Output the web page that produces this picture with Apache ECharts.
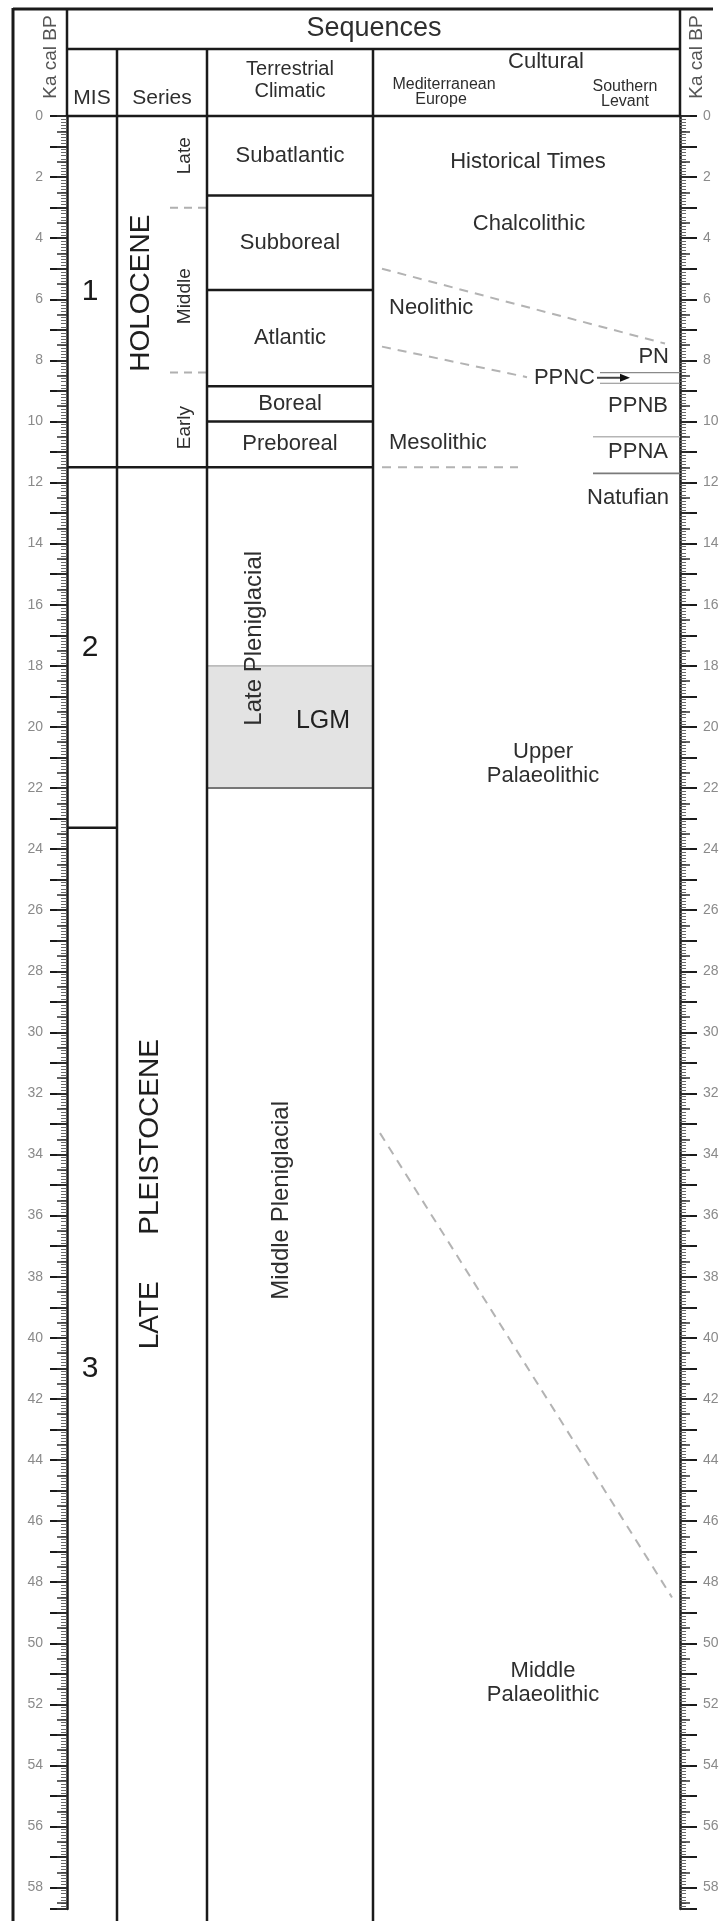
<!DOCTYPE html>
<html><head><meta charset="utf-8">
<script src="https://cdn.jsdelivr.net/npm/echarts@6/dist/echarts.min.js"></script>
<style>html,body{margin:0;padding:0;background:#fff}#c{width:725px;height:1921px}</style>
</head><body><div id="c"></div>
<script>
// ---------------- DATA (ka cal BP) ----------------
const ageRange = [0, 58.7];
const tickLabels = [0,2,4,6,8,10,12,14,16,18,20,22,24,26,28,30,32,34,36,38,40,42,44,46,48,50,52,54,56,58];

const misNames = ['1', '2', '3'];
const misTop   = [0, 11.5, 23.3];
const misBase  = [11.5, 23.3, 58.7];

const seriesNames = ['HOLOCENE', 'LATE      PLEISTOCENE'];
const seriesTop   = [0, 11.5];
const seriesBase  = [11.5, 58.7];
const seriesLabelAge = [5.8, 35.3];

const holoSubNames = ['Late', 'Middle', 'Early'];
const holoSubTop   = [0, 3.0, 8.4];
const holoSubBase  = [3.0, 8.4, 11.5];
const holoSubLabelAge = [1.3, 5.9, 10.2];

const climNames = ['Subatlantic', 'Subboreal', 'Atlantic', 'Boreal', 'Preboreal'];
const climTop   = [0, 2.6, 5.7, 8.85, 10.0];
const climBase  = [2.6, 5.7, 8.85, 10.0, 11.5];

const pleniNames = ['Late Pleniglacial', 'Middle Pleniglacial'];
const pleniTop   = [11.5, 22.0];
const pleniBase  = [22.0, 58.7];
const pleniLabelAge = [17.1, 35.5];

const lgmName = 'LGM';
const lgmRange = [18.0, 22.0];
const lgmLabelAge = 19.8;

const medNames = ['Historical Times', 'Chalcolithic', 'Neolithic', 'Mesolithic', 'Upper\nPalaeolithic', 'Middle\nPalaeolithic'];
const medLabelAge = [1.5, 3.55, 6.3, 10.7, 21.2, 51.3];
const medBoundFrom = [5.0, 7.55, 11.5, 33.3];
const medBoundTo   = [7.45, 8.55, 11.5, 48.5];

const levNames = ['PN', 'PPNC', 'PPNB', 'PPNA', 'Natufian'];
const levLabelAge = [7.9, 8.57, 9.5, 11.0, 12.5];
const levBounds = [8.4, 8.75, 10.5, 11.7];

// ---------------- LAYOUT (pixels) ----------------
const FONT = '"Liberation Sans", Arial, Helvetica, sans-serif';
const GL = 67, GR = 680, GT = 116, GB = 1909;      // plot frame
const W = GR - GL;                                    // x axis units = px from left axis
const col = { mis: [0, 50], ser: [50, 140], ter: [140, 306], cul: [306, W] };
const medLabelX = [461, 462, 322, 322, 476, 476];
const medLabelAlign = ['center', 'center', 'left', 'left', 'center', 'center'];
const medBoundX = [[315, 598], [315, 460], [315, 451], [313, 605]];
const levLabelX = [602, 528, 601, 601, 602];
const levBoundX = [[533, W], [533, W], [526, W], [526, W]];
const levBoundStyle = [['#8a8a8a', 1.2], ['#8a8a8a', 1.2], ['#b5b5b5', 1.6], ['#7a7a7a', 1.6]];

// ---------------- BUILD ITEMS ----------------
const items = [];
const line = (x1, a1, x2, a2, color, w, dash) => items.push({ k: 'line', x1, a1, x2, a2, color, w, dash });
const text = (x, a, t, size, o = {}) => items.push(Object.assign({ k: 'text', x, a, t, size }, o));

// LGM shading
items.push({ k: 'rect', x1: col.ter[0], a1: lgmRange[0], x2: col.ter[1], a2: lgmRange[1], fill: '#e3e3e3' });
// top (0 ka) line
line(0, ageRange[0], W, ageRange[0], '#1a1a1a', 2.5);
// MIS
misTop.forEach((t, i) => { if (i > 0) line(col.mis[0], t, col.mis[1], t, '#1a1a1a', 2.5); });
misNames.forEach((n, i) => text(23, (misTop[i] + misBase[i]) / 2, n, 30, { color: '#1a1a1a' }));
// Series
seriesTop.forEach((t, i) => { if (i > 0) line(col.ser[0], t, col.ser[1], t, '#1a1a1a', 2.5); });
seriesNames.forEach((n, i) => text(i === 0 ? 74 : 83, seriesLabelAge[i], n, 28, { rot: true, color: '#1f1f1f' }));
holoSubTop.forEach((t, i) => { if (i > 0) line(103, t, col.ser[1], t, '#b0b0b0', 2, [8, 6]); });
holoSubNames.forEach((n, i) => text(118, holoSubLabelAge[i], n, 19, { rot: true }));
// Terrestrial climatic
climBase.forEach((b, i) => line(col.ter[0], b, col.ter[1], b, '#1a1a1a', 2.5));
climNames.forEach((n, i) => text(223, (climTop[i] + climBase[i]) / 2, n, 22));
line(col.ter[0], lgmRange[0], col.ter[1], lgmRange[0], '#a8a8a8', 1.2);
line(col.ter[0], pleniBase[0], col.ter[1], pleniBase[0], '#777', 1.8);
pleniNames.forEach((n, i) => text(i === 0 ? 187 : 214, pleniLabelAge[i], n, 24, { rot: true }));
text(256, lgmLabelAge, lgmName, 25, { color: '#222' });
// Cultural – Mediterranean Europe
medBoundFrom.forEach((a, i) => line(medBoundX[i][0], a, medBoundX[i][1], medBoundTo[i], '#b3b3b3', 2, [9, 7]));
medNames.forEach((n, i) => text(medLabelX[i], medLabelAge[i], n, 22, { align: medLabelAlign[i], lh: 24 }));
// Cultural – Southern Levant
levBounds.forEach((b, i) => line(levBoundX[i][0], b, levBoundX[i][1], b, levBoundStyle[i][0], levBoundStyle[i][1]));
levNames.forEach((n, i) => text(levLabelX[i], levLabelAge[i], n, 22, { align: 'right' }));
items.push({ k: 'arrow', x1: 530, x2: 563, a: levLabelAge[1] });

function render(params, api) {
  const d = items[params.dataIndex];
  const P = (x, a) => api.coord([x, a]);
  if (d.k === 'line') {
    const p = P(d.x1, d.a1), q = P(d.x2, d.a2);
    return { type: 'line', silent: true, shape: { x1: p[0], y1: p[1], x2: q[0], y2: q[1] },
      style: { stroke: d.color, lineWidth: d.w, lineDash: d.dash || null } };
  }
  if (d.k === 'rect') {
    const p = P(d.x1, d.a1), q = P(d.x2, d.a2);
    return { type: 'rect', silent: true, shape: { x: p[0], y: p[1], width: q[0] - p[0], height: q[1] - p[1] }, style: { fill: d.fill } };
  }
  if (d.k === 'arrow') {
    const p = P(d.x1, d.a), q = P(d.x2, d.a);
    return { type: 'group', silent: true, children: [
      { type: 'line', shape: { x1: p[0], y1: p[1], x2: q[0] - 6, y2: q[1] }, style: { stroke: '#444', lineWidth: 2 } },
      { type: 'polygon', shape: { points: [[q[0], q[1]], [q[0] - 10, q[1] - 4], [q[0] - 10, q[1] + 4]] }, style: { fill: '#111' } }
    ] };
  }
  const p = P(d.x, d.a);
  return { type: 'text', silent: true, x: p[0], y: p[1], rotation: d.rot ? Math.PI / 2 : 0,
    style: { text: d.t, fill: d.color || '#2e2e2e', font: d.size + 'px ' + FONT,
      align: d.align || 'center', verticalAlign: 'middle', textAlign: d.align || 'center', textVerticalAlign: 'middle',
      lineHeight: d.lh || d.size * 1.15 } };
}

// ---------------- HEADER (graphic) ----------------
const G = [];
const gl = (x1, y1, x2, y2, w, c) => G.push({ type: 'line', silent: true, z: 100, shape: { x1, y1, x2, y2 }, style: { stroke: c || '#1a1a1a', lineWidth: w } });
const gt = (x, y, t, size, rot, c) => G.push({ type: 'text', silent: true, z: 100, x, y, rotation: rot ? Math.PI / 2 : 0,
  style: { text: t, font: size + 'px ' + FONT, fill: c || '#2e2e2e', align: 'center', verticalAlign: 'middle', textAlign: 'center', textVerticalAlign: 'middle' } });
gl(13, 9, 713, 9, 3);
gl(13, 8, 13, 1921, 3);
gl(GL, 9, GL, GT, 2.5);
gl(GR, 9, GR, GT, 2.5);
gl(GL, 49, GR, 49, 2.5);
[GL + col.mis[1], GL + col.ser[1], GL + col.ter[1]].forEach(x => gl(x, 49, x, 1921, 2.5));
gt(374, 29, 'Sequences', 27);
gt(92, 98, 'MIS', 21);
gt(162, 98, 'Series', 21);
gt(290, 69, 'Terrestrial', 20);
gt(290, 91, 'Climatic', 20);
gt(546, 62, 'Cultural', 22);
gt(444, 85, 'Mediterranean', 16);
gt(441, 100, 'Europe', 16);
gt(625, 87, 'Southern', 16);
gt(625, 102, 'Levant', 16);
gt(51, 57, 'Ka cal BP', 19, true, '#555');
gt(697, 57, 'Ka cal BP', 19, true, '#555');

// ---------------- AXES ----------------
const baseY = { type: 'value', min: ageRange[0], max: ageRange[1], inverse: true, splitLine: { show: false } };
const mainAxis = pos => Object.assign({}, baseY, {
  position: pos, interval: 1,
  axisLine: { show: true, lineStyle: { color: '#1a1a1a', width: 2.5 } },
  axisTick: { show: true, length: 17, lineStyle: { color: '#1a1a1a', width: 2 } },
  minorTick: { show: true, splitNumber: 10, length: 6, lineStyle: { color: '#666', width: 1 } },
  axisLabel: { margin: pos === 'left' ? 24 : 23, color: '#8a8a8a', fontSize: 14, fontFamily: FONT,
    formatter: v => tickLabels.includes(v) ? String(v) : '' }
});
const halfAxis = pos => Object.assign({}, baseY, {
  position: pos, interval: 0.5,
  axisLine: { show: false },
  axisTick: { show: true, length: 10, lineStyle: { color: '#333', width: 1.5 } },
  axisLabel: { show: false }
});

const chart = echarts.init(document.getElementById('c'), null, { renderer: 'canvas' });
chart.setOption({
  animation: false,
  backgroundColor: '#fff',
  grid: { left: GL, right: 725 - GR, top: GT, bottom: 1921 - GB, containLabel: false },
  xAxis: { type: 'value', min: 0, max: W, show: false },
  yAxis: [mainAxis('left'), halfAxis('left'), mainAxis('right'), halfAxis('right')],
  graphic: { elements: G },
  series: [{
    type: 'custom', coordinateSystem: 'cartesian2d', xAxisIndex: 0, yAxisIndex: 0,
    data: items.map((d, i) => [i]), renderItem: render, clip: false, silent: true
  }]
});
</script></body></html>
